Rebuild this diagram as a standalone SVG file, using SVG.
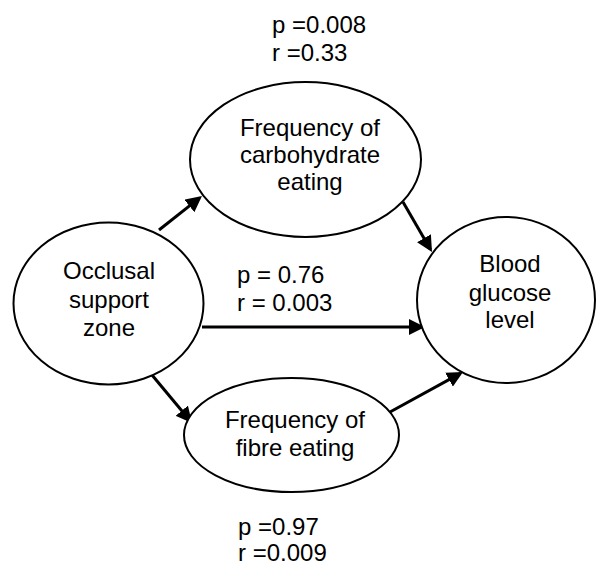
<svg xmlns="http://www.w3.org/2000/svg" width="596" height="567" viewBox="0 0 596 567">
<style>
.node ellipse{fill:#fff;stroke:#000;stroke-width:2}
text{font-family:"Liberation Sans",Arial,sans-serif;font-size:24px;fill:#000}
.c{text-anchor:middle}
.edge{stroke:#000;stroke-width:3;fill:none;marker-end:url(#ah)}
</style>
<defs>
<marker id="ah" markerUnits="userSpaceOnUse" markerWidth="16" markerHeight="16" refX="13" refY="8" orient="auto">
<path d="M0,0 L16,8 L0,16 z" fill="#000"/>
</marker>
</defs>
<rect width="596" height="567" fill="#fff"/>
<g id="connectors">
<line class="edge" x1="159" y1="230" x2="199.6" y2="197.9"/>
<line class="edge" x1="403" y1="202" x2="430.5" y2="249.4"/>
<line class="edge" x1="202" y1="327" x2="422" y2="327"/>
<line class="edge" x1="152" y1="375" x2="190.1" y2="420.7"/>
<line class="edge" x1="390" y1="412" x2="460.4" y2="373.4"/>
</g>
<g id="occlusal" class="node">
<ellipse cx="108.5" cy="303.5" rx="95" ry="81"/>
<text class="c" x="109" y="279">Occlusal</text>
<text class="c" x="109" y="308">support</text>
<text class="c" x="109" y="336">zone</text>
</g>
<g id="carbohydrate" class="node">
<ellipse cx="305.5" cy="159.5" rx="115.5" ry="77.5"/>
<text class="c" x="310" y="136">Frequency of</text>
<text class="c" x="310" y="163">carbohydrate</text>
<text class="c" x="310" y="190">eating</text>
</g>
<g id="glucose" class="node">
<ellipse cx="506" cy="300" rx="89" ry="83"/>
<text class="c" x="510" y="272">Blood</text>
<text class="c" x="510" y="301">glucose</text>
<text class="c" x="510" y="328">level</text>
</g>
<g id="fibre" class="node">
<ellipse cx="291.5" cy="435" rx="107.5" ry="57"/>
<text class="c" x="295" y="428">Frequency of</text>
<text class="c" x="295" y="456">fibre eating</text>
</g>
<g id="labels">
<text x="272" y="33">p =0.008</text>
<text x="272" y="61">r =0.33</text>
<text x="237" y="283">p = 0.76</text>
<text x="237" y="311">r = 0.003</text>
<text x="238" y="535">p =0.97</text>
<text x="238" y="561">r =0.009</text>
</g>
</svg>
